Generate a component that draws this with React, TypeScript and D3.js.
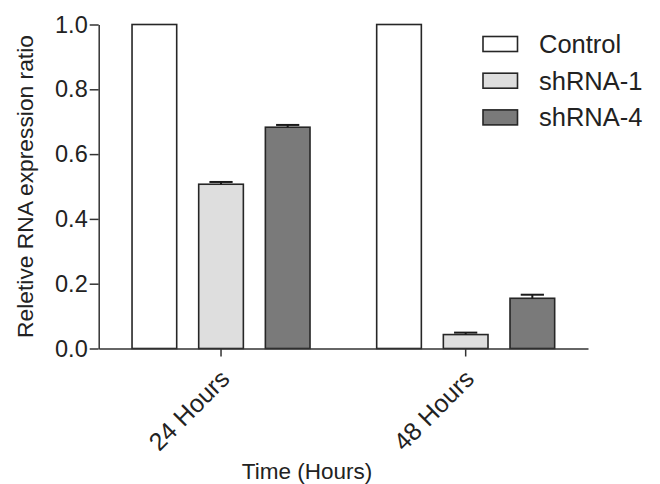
import React, { useEffect, useRef } from 'react';
import * as d3 from 'd3';

const groups = ['24 Hours', '48 Hours'];
const series = ['Control', 'shRNA-1', 'shRNA-4'];
const control = [1.0, 1.0];
const controlErr = [0, 0];
const shrna1 = [0.507, 0.043];
const shrna1Err = [0.007, 0.006];
const shrna4 = [0.683, 0.155];
const shrna4Err = [0.007, 0.011];
const yTicks = [0, 0.2, 0.4, 0.6, 0.8, 1.0];

const colors = ['#ffffff', '#dedede', '#7a7a7a'];
const width = 660;
const height = 484;
const font = '"Liberation Sans", Arial, sans-serif';

export default function App() {
  const ref = useRef<SVGSVGElement>(null);

  useEffect(() => {
    const svg = d3.select(ref.current);
    svg.selectAll('*').remove();

    const margin = { top: 24.5, right: 72, bottom: 135.5, left: 98.7 };
    const values = [control, shrna1, shrna4];
    const errs = [controlErr, shrna1Err, shrna4Err];

    const y = d3.scaleLinear().domain([0, 1]).range([height - margin.bottom, margin.top]);
    const x0 = d3.scaleBand().domain(groups).range([margin.left, width - margin.right]).padding(0);
    const x1 = d3.scaleBand().domain(series).range([0, x0.bandwidth()])
      .paddingInner(0.33).paddingOuter(0.5);

    const rows = groups.flatMap((g, gi) => series.map((s, si) => ({
      g, s, si, v: values[si][gi], e: errs[si][gi]
    })));

    // bars
    svg.append('g')
      .selectAll('rect')
      .data(rows)
      .join('rect')
        .attr('x', d => x0(d.g)! + x1(d.s)!)
        .attr('y', d => y(d.v))
        .attr('width', x1.bandwidth())
        .attr('height', d => y(0) - y(d.v))
        .attr('fill', d => colors[d.si])
        .attr('stroke', '#262626')
        .attr('stroke-width', 1.6);

    // error bars (upper only)
    const errRows = rows.filter(d => d.e > 0);
    const capW = x1.bandwidth() * 0.52;
    const eg = svg.append('g').attr('stroke', '#1a1a1a').attr('stroke-width', 2);
    eg.selectAll('line.v')
      .data(errRows)
      .join('line')
        .attr('class', 'v')
        .attr('x1', d => x0(d.g)! + x1(d.s)! + x1.bandwidth() / 2)
        .attr('x2', d => x0(d.g)! + x1(d.s)! + x1.bandwidth() / 2)
        .attr('y1', d => y(d.v))
        .attr('y2', d => y(d.v + d.e));
    eg.selectAll('line.c')
      .data(errRows)
      .join('line')
        .attr('class', 'c')
        .attr('x1', d => x0(d.g)! + x1(d.s)! + x1.bandwidth() / 2 - capW / 2)
        .attr('x2', d => x0(d.g)! + x1(d.s)! + x1.bandwidth() / 2 + capW / 2)
        .attr('y1', d => y(d.v + d.e))
        .attr('y2', d => y(d.v + d.e));

    // y axis
    svg.append('g')
      .attr('transform', `translate(${margin.left},0)`)
      .call(d3.axisLeft(y).tickValues(yTicks).tickFormat(d3.format('.1f'))
        .tickSize(9).tickSizeOuter(0).tickPadding(2))
      .call(g => g.selectAll('path, line').attr('stroke', '#333').attr('stroke-width', 1.5))
      .call(g => g.selectAll('text').attr('fill', '#222').attr('font-size', 23.5).attr('font-family', font));

    // x axis
    svg.append('g')
      .attr('transform', `translate(0,${y(0)})`)
      .call(d3.axisBottom(x0).tickSize(8).tickSizeOuter(0).tickFormat(() => ''))
      .call(g => g.selectAll('path, line').attr('stroke', '#333').attr('stroke-width', 1.5));

    svg.append('g')
      .selectAll('text')
      .data(groups)
      .join('text')
        .attr('transform', d => `translate(${x0(d)! + x0.bandwidth() / 2 + 10},${y(0) + 32}) rotate(-45)`)
        .attr('text-anchor', 'end')
        .attr('font-size', 25)
        .attr('font-family', font)
        .attr('fill', '#222')
        .text(d => d);

    // axis titles
    svg.append('text')
      .attr('x', 307)
      .attr('y', 479)
      .attr('text-anchor', 'middle')
      .attr('font-size', 22.5)
      .attr('font-family', font)
      .attr('fill', '#222')
      .text('Time (Hours)');

    svg.append('text')
      .attr('transform', `translate(33,${(y(0) + y(1)) / 2}) rotate(-90)`)
      .attr('text-anchor', 'middle')
      .attr('font-size', 22.8)
      .attr('font-family', font)
      .attr('fill', '#222')
      .text('Reletive RNA expression ratio');

    // legend
    const lg = svg.append('g').attr('transform', 'translate(483,44)');
    const item = lg.selectAll('g')
      .data(series)
      .join('g')
        .attr('transform', (d, i) => `translate(0,${i * 36.7})`);
    item.append('rect')
      .attr('x', 0).attr('y', -7.5)
      .attr('width', 34.5).attr('height', 15)
      .attr('fill', (d, i) => colors[i])
      .attr('stroke', '#262626')
      .attr('stroke-width', 1.6);
    item.append('text')
      .attr('x', 56)
      .attr('y', 9)
      .attr('font-size', 25.5)
      .attr('font-family', font)
      .attr('fill', '#222')
      .text(d => d);
  }, []);

  return (
    <svg ref={ref} width={width} height={height}
      style={{ position: 'absolute', left: 0, top: 0, background: '#fff' }} />
  );
}
